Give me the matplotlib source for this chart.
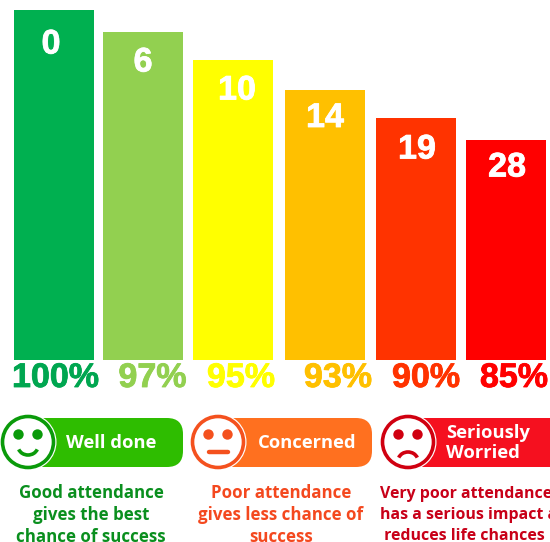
#Attendance chart - days missed and percentage per band
import numpy as np
import matplotlib
matplotlib.use('Agg')
import matplotlib.pyplot as plt
import matplotlib.patheffects as pe
from matplotlib.patches import Circle, FancyBboxPatch, Arc

days_missed = ['0', '6', '10', '14', '19', '28']
bar_heights = [350, 328, 300, 270, 242, 220]
percent_labels = ['100%', '97%', '95%', '93%', '90%', '85%']
bar_colors = ['#00B050', '#92D050', '#FFFF00', '#FFC000', '#FF3300', '#FF0000']
percent_colors = ['#00A650', '#92D050', '#FFFF00', '#FFC000', '#FF3300', '#FF0000']

bands = ['Well done', 'Concerned', 'Seriously\nWorried']
band_notes = ['Good attendance\ngives the best\nchance of success',
              'Poor attendance\ngives less chance of\nsuccess',
              'Very poor attendance\nhas a serious impact and\n reduces life chances']
pill_colors = ['#2EBD00', '#FF701F', '#F5101F']
face_colors = ['#0A9A0A', '#F4511E', '#D00010']
note_colors = ['#0A8F1E', '#F4481E', '#C80018']

#posicoes em pixels da figura, base das barras em y=0
bar_x = [54, 143, 233, 325, 416, 506]
num_x = [51, 143, 237, 325, 417, 507]
num_y = [315, 297, 269, 241.5, 210, 192]
pct_x = [55.5, 152.5, 241, 338, 426, 514]
face_x = [28, 218, 408]
pill_w = [155, 154, 170]
label_x = [111, 307, 446]
label_ha = ['center', 'center', 'left']
note_x = [91, 281, 380]
note_ha = ['center', 'center', 'left']
note_size = [12.2, 12.2, 11.4]

fig = plt.figure(figsize=(5.5, 5.42), dpi=100)
ax = fig.add_axes([0, 0, 1, 1])
ax.set_xlim(0, 550)
ax.set_ylim(-182, 360)
ax.axis('off')

ax.bar(bar_x, bar_heights, width=80, color=bar_colors)

for x, y, d in zip(num_x, num_y, days_missed):
    ax.text(x, y, d, color='white', fontsize=24.5, fontweight='bold', family='Liberation Sans',
            ha='center', va='center',
            path_effects=[pe.withStroke(linewidth=0.6, foreground='white')])

for x, p, c in zip(pct_x, percent_labels, percent_colors):
    ax.text(x, -18.5, p, color=c, fontsize=24.5, fontweight='bold', family='Liberation Sans',
            ha='center', va='center',
            path_effects=[pe.withStroke(linewidth=0.6, foreground=c)])

for i in range(3):
    cx = face_x[i]
    cy = -82
    #corpo da etiqueta
    ax.add_patch(FancyBboxPatch((cx, -107), pill_w[i], 49, boxstyle='round,pad=0,rounding_size=16',
                                fc=pill_colors[i], ec='none', zorder=2))
    ax.text(label_x[i], -83, bands[i], color='white', fontsize=13.2, fontweight='bold',
            family='Open Sans', ha=label_ha[i], va='center', linespacing=1.2, zorder=3)
    #rosto
    ax.add_patch(Circle((cx, cy), 28.5, fc='white', ec='none', zorder=3))
    ax.add_patch(Circle((cx, cy), 25.5, fc='white', ec=face_colors[i], lw=2.6, zorder=4))
    for dx in (-9.5, 9.5):
        ax.add_patch(Circle((cx + dx, cy + 7.5), 5.2, fc=face_colors[i], ec='none', zorder=5))
    if i == 0:
        ax.add_patch(Arc((cx, cy - 4), 20, 18, theta1=200, theta2=340, color=face_colors[i], lw=2.6, zorder=5))
    elif i == 1:
        ax.plot([cx - 9.5, cx + 9.5], [cy - 10, cy - 10], color=face_colors[i], lw=3.2, solid_capstyle='round', zorder=5)
    else:
        ax.add_patch(Arc((cx, cy - 19), 20, 18, theta1=20, theta2=160, color=face_colors[i], lw=2.6, zorder=5))
    ax.text(note_x[i], -155, band_notes[i], color=note_colors[i], fontsize=note_size[i], fontweight='bold',
            family='Open Sans', ha=note_ha[i], ma=note_ha[i], va='center',
            linespacing=1.31 * 12.2 / note_size[i], zorder=3)

fig.savefig('out.png', dpi=100)
